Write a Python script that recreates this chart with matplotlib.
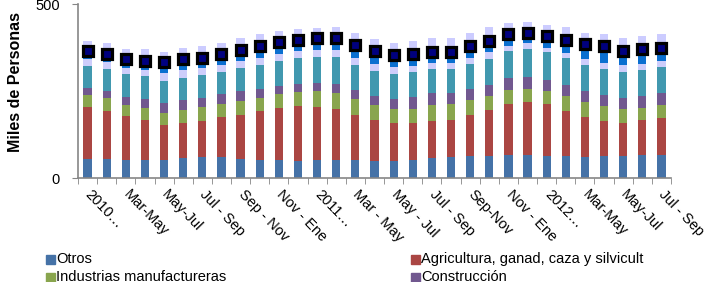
import numpy as np
import matplotlib
matplotlib.use("Agg")
from matplotlib import pyplot as plt
from matplotlib.patches import Rectangle

plt.rcParams['font.family'] = ['Liberation Sans', 'DejaVu Sans']

# valores en miles de personas, trimestres móviles desde Ene-Mar 2010
otros = [54, 54, 53, 53, 53, 57, 59, 60, 56, 53, 51, 48, 51, 53, 53, 50,
         49, 51, 57, 59, 63, 64, 65, 65, 63, 63, 60, 62, 64, 65, 65]
agricultura = [150, 138, 124, 113, 98, 101, 104, 115, 124, 139, 149, 160, 153, 145, 129, 117,
               108, 106, 107, 108, 117, 131, 147, 152, 149, 129, 115, 102, 95, 101, 106]
industrias = [35, 37, 34, 36, 37, 37, 40, 38, 42, 37, 40, 38, 46, 46, 45, 42,
              41, 42, 47, 46, 44, 40, 41, 40, 38, 44, 42, 42, 38, 36, 39]
construccion = [20, 21, 23, 26, 28, 29, 26, 27, 27, 27, 24, 24, 24, 26, 27, 27,
                29, 33, 33, 32, 32, 33, 33, 33, 32, 31, 33, 32, 34, 34, 34]
comercio = [63, 63, 64, 64, 64, 64, 66, 65, 66, 68, 72, 74, 74, 78, 72, 71,
            71, 72, 69, 68, 71, 74, 78, 80, 79, 77, 75, 74, 74, 74, 74]
transporte = [21, 19, 17, 18, 22, 23, 22, 21, 22, 22, 21, 20, 19, 19, 20, 20,
              20, 18, 18, 18, 18, 19, 14, 17, 13, 14, 16, 19, 19, 19, 19]
servicios = [22, 26, 27, 27, 30, 31, 29, 30, 31, 34, 33, 33, 33, 36, 37, 38,
             36, 34, 32, 31, 34, 35, 36, 31, 34, 39, 43, 46, 41, 41, 36]
financieros = [29, 30, 30, 33, 31, 31, 32, 33, 33, 35, 31, 30, 32, 32, 33, 34,
               35, 37, 38, 40, 37, 37, 32, 31, 32, 36, 34, 36, 36, 37, 40]
total = [365, 357, 342, 337, 332, 341, 346, 356, 368, 379, 390, 397, 401, 403, 383, 365,
         354, 356, 363, 362, 379, 395, 415, 418, 407, 397, 384, 378, 365, 370, 373]

tick_labels = ['2010…', 'Mar-May', 'May-Jul', 'Jul - Sep', 'Sep - Nov', 'Nov - Ene',
               '2011…', 'Mar - May', 'May - Jul', 'Jul - Sep', 'Sep-Nov', 'Nov - Ene',
               '2012…', 'Mar-May', 'May-Jul', 'Jul - Sep']

series = [otros, agricultura, industrias, construccion, comercio, transporte, servicios, financieros]
names = ['Otros', 'Agricultura, ganad, caza y silvicult', 'Industrias manufactureras',
         'Construcción', 'Comercio, hoteles y restaurantes', 'Transporte y comunicaciones',
         'Servicios comunales y personales', 'Establecimientos financieros', 'Total']
colors = ['#4572A7', '#AA4643', '#89A54E', '#71588F', '#4198AF', '#CDCDFB', '#0A6FD0', '#CCCCFF']

fig = plt.figure(figsize=(7.06, 2.82), dpi=100)
ax = fig.add_axes([78 / 706, 1 - 178 / 282, (671 - 78) / 706, (178 - 4) / 282])

x = np.arange(len(otros))
bottom = np.zeros(len(otros))
for vals, col in zip(series, colors):
    ax.bar(x, vals, 0.43, bottom=bottom, color=col, edgecolor='none', zorder=2)
    bottom += np.array(vals)

ax.plot(x, total, ls='none', marker='s', ms=6.8, mfc='#000080', mec='black', mew=2.3, zorder=3)

ax.set_xlim(-0.5, len(otros) - 0.5)
ax.set_ylim(0, 500)
ax.set_yticks([0, 500])
ax.tick_params(axis='y', length=4, color='#868686', labelsize=10.5, pad=9)

ax.set_xticks(x[::2])
ax.set_xticklabels(tick_labels, rotation=-46, ha='left', va='center',
                   rotation_mode='anchor', fontsize=10.5)
ax.set_xticks(np.arange(-0.5, len(otros)), minor=True)
ax.tick_params(axis='x', which='major', length=0, pad=10)
ax.tick_params(axis='x', which='minor', length=4, color='#868686')

for s in ['top', 'right']:
    ax.spines[s].set_visible(False)
for s in ['left', 'bottom']:
    ax.spines[s].set_color('#868686')
    ax.spines[s].set_linewidth(1.2)

ax.set_ylabel('Miles de Personas', fontsize=11.5, fontweight='bold')
ax.yaxis.set_label_coords(-0.092, 0.55)

# título (cortado en la parte superior)
fig.text(85 / 706, 1.016, 'Ocupados por rama de actividad', fontsize=17,
         fontweight='bold', va='baseline', ha='left')

# leyenda en dos columnas (filas inferiores quedan fuera de la figura)
for i, name in enumerate(names[:8]):
    row, c = divmod(i, 2)
    px = 46 if c == 0 else 411
    py = 259 + 18 * row
    fig.patches.append(Rectangle((px / 706, 1 - (py + 4.5) / 282), 8.5 / 706, 9 / 282,
                                 transform=fig.transFigure, color=colors[i], figure=fig))
    fig.text((px + 10) / 706, 1 - py / 282, name, fontsize=10.5, va='center', ha='left')

fig.savefig('out.png', dpi=100)
